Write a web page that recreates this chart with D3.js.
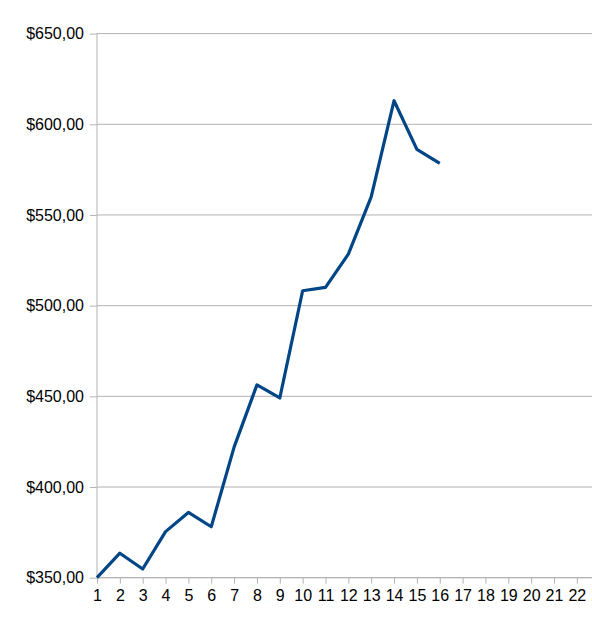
<!DOCTYPE html>
<html><head><meta charset="utf-8">
<script src="https://cdn.jsdelivr.net/npm/d3@7"></script>
<style>body{margin:0;background:#fff;overflow:hidden}svg{display:block}</style>
</head><body>
<svg id="c" width="592" height="627"></svg>
<script>
const categories = ["1","2","3","4","5","6","7","8","9","10","11","12","13","14","15","16","17","18","19","20","21","22","23"];
const values = [350, 363.5, 354.8, 375.4, 386, 378.1, 422, 456.3, 449.1, 508.2, 510.1, 528.4, 560, 613, 586.2, 578.4];
const yTicks = [350, 400, 450, 500, 550, 600, 650];

(function () {
const svg = d3.select("#c");
const mLeft = 97, mTop = 33.6, mBottom = 577.7, step = 22.85;
const x = d3.scalePoint().domain(categories).range([mLeft, mLeft + step * (categories.length - 1)]);
const y = d3.scaleLinear().domain([350, 650]).range([mBottom, mTop]);
const fmt = v => "$" + d3.format(".2f")(v).replace(".", ",");

// gridlines
svg.append("g").selectAll("line").data(yTicks).join("line")
  .attr("x1", mLeft).attr("x2", 592)
  .attr("y1", d => y(d)).attr("y2", d => y(d))
  .attr("stroke", "#b3b3b3").attr("stroke-width", 1);

// y axis
const ya = svg.append("g").attr("transform", `translate(${mLeft},0)`)
  .call(d3.axisLeft(y).tickValues(yTicks).tickFormat(fmt).tickSize(7).tickPadding(6));
ya.select(".domain").attr("stroke", "#b3b3b3").attr("d", `M0,${mTop}V${mBottom}`);
ya.selectAll(".tick line").attr("stroke", "#b3b3b3");
ya.selectAll("text").attr("font-family", "Liberation Sans, Arial, sans-serif").attr("font-size", 16).attr("fill", "#000");

// x axis
const xa = svg.append("g").attr("transform", `translate(0,${mBottom})`)
  .call(d3.axisBottom(x).tickSize(6).tickPadding(6));
xa.select(".domain").attr("stroke", "#b3b3b3").attr("d", `M${mLeft},0H620`);
xa.selectAll(".tick line").attr("stroke", "#b3b3b3");
xa.selectAll("text").attr("font-family", "Liberation Sans, Arial, sans-serif").attr("font-size", 16).attr("fill", "#000");

// line
const line = d3.line().x((d, i) => x(categories[i])).y(d => y(d));
svg.append("path").datum(values).attr("d", line)
  .attr("fill", "none").attr("stroke", "#004586").attr("stroke-width", 3.2)
  .attr("stroke-linejoin", "round").attr("stroke-linecap", "butt");
})();
</script>
</body></html>
